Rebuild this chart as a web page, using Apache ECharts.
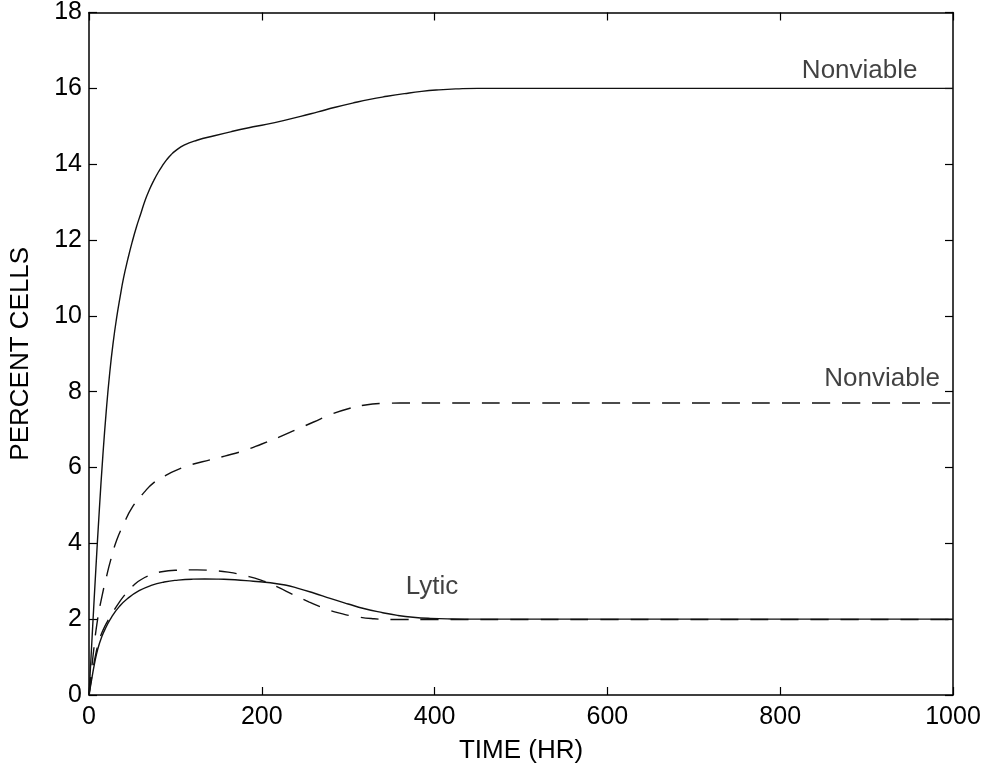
<!DOCTYPE html>
<html>
<head>
<meta charset="utf-8">
<script src="https://cdn.jsdelivr.net/npm/echarts@6/dist/echarts.min.js"></script>
<style>
html,body{margin:0;padding:0;background:#fff;}
#chart{width:990px;height:769px;}
</style>
</head>
<body>
<div id="chart"></div>
<script>
// ---- data ----
var xTicks = [0, 200, 400, 600, 800, 1000];
var yTicks = [0, 2, 4, 6, 8, 10, 12, 14, 16, 18];

var nvSolidT = [0,4,8,12,16,20,24,28,32,36,40,45,50,55,60,65,70,75,80,85,90,95,100,110,125,145,165,185,205,225,245,265,285,305,325,345,365,385,405,425,450,500,600,800,1000];
var nvSolidV = [0,1.7,3.35,4.9,6.3,7.5,8.5,9.3,9.95,10.5,11.0,11.5,11.95,12.35,12.7,13.05,13.33,13.57,13.78,13.96,14.12,14.25,14.35,14.5,14.63,14.75,14.86,14.96,15.05,15.15,15.26,15.38,15.5,15.61,15.71,15.79,15.86,15.92,15.96,15.985,16.0,16.0,16.0,16.0,16.0];

var nvDashT = [0,5,10,15,20,25,32,40,50,64,75,88,100,119,140,157,180,200,220,240,260,280,300,320,340,360,400,500,600,800,1000];
var nvDashV = [0,1.1,2.0,2.6,3.1,3.55,4.08,4.5,4.95,5.35,5.6,5.78,5.92,6.08,6.2,6.3,6.45,6.62,6.8,7.0,7.2,7.4,7.55,7.65,7.69,7.7,7.7,7.7,7.7,7.7,7.7];

var lyticSolidT = [0,3,6,10,15,20,26,35,45,58,72,87,103,120,134,150,169,190,210,227,241,260,280,300,318,340,357,375,395,420,450,500,600,800,1000];
var lyticSolidV = [0,0.4,0.78,1.2,1.55,1.8,2.05,2.33,2.55,2.75,2.89,2.98,3.03,3.055,3.06,3.055,3.04,3.0,2.96,2.9,2.82,2.69,2.54,2.4,2.28,2.17,2.1,2.05,2.02,2.005,2.0,2.0,2.0,2.0,2.0];

var lyticDashT = [0,4,8,12,16,22,28,34,40,46,52,60,72,84,100,125,145,161,180,199,218,237,255,272,290,311,330,349,400,500,600,800,1000];
var lyticDashV = [0,0.6,1.1,1.45,1.7,1.97,2.2,2.41,2.6,2.76,2.9,3.04,3.17,3.25,3.29,3.3,3.28,3.24,3.15,3.03,2.85,2.64,2.45,2.29,2.16,2.06,2.01,1.99,1.99,1.99,1.99,1.99,1.99];

var noteTexts = ['Nonviable', 'Nonviable', 'Lytic'];
var noteX = [892, 918, 397];
var noteY = [16.45, 8.34, 2.84];

// ---- build ----
function pairs(t, v) { return t.map(function (x, i) { return [x, v[i]]; }); }

var FONT = 'Liberation Sans, Arial, Helvetica, sans-serif';
var axisLineStyle = { color: '#000', width: 1.5 };
var tickStyle = { color: '#000', width: 1.2 };

function lineSeries(t, v, dashed) {
  return {
    type: 'line',
    data: pairs(t, v),
    showSymbol: false,
    smooth: 0.5,
    silent: true,
    lineStyle: { color: '#111', width: 1.4, type: dashed ? [18, 12] : 'solid' },
    z: 3
  };
}

function plainLabel(v) { return String(v); }

var chart = echarts.init(document.getElementById('chart'), null, { renderer: 'canvas' });
chart.setOption({
  backgroundColor: '#fff',
  animation: false,
  grid: { left: 88, right: 37, top: 11, bottom: 74, containLabel: false },
  xAxis: [{
    type: 'value', min: xTicks[0], max: xTicks[xTicks.length - 1], interval: 200,
    position: 'bottom',
    name: 'TIME (HR)', nameLocation: 'middle', nameGap: 43,
    nameTextStyle: { fontFamily: FONT, fontSize: 26, color: '#000' },
    axisLine: { show: true, onZero: false, lineStyle: axisLineStyle },
    axisTick: { show: true, inside: true, length: 8, lineStyle: tickStyle },
    axisLabel: { fontFamily: FONT, fontSize: 25, color: '#000', margin: 10, formatter: plainLabel },
    splitLine: { show: false }
  }, {
    type: 'value', min: xTicks[0], max: xTicks[xTicks.length - 1], interval: 200,
    position: 'top',
    axisLine: { show: true, onZero: false, lineStyle: axisLineStyle },
    axisTick: { show: true, inside: true, length: 8, lineStyle: tickStyle },
    axisLabel: { show: false },
    splitLine: { show: false }
  }],
  yAxis: [{
    type: 'value', min: yTicks[0], max: yTicks[yTicks.length - 1], interval: 2,
    position: 'left',
    name: 'PERCENT CELLS', nameLocation: 'middle', nameGap: 55, nameRotate: 90,
    nameTextStyle: { fontFamily: FONT, fontSize: 26, color: '#000' },
    axisLine: { show: true, onZero: false, lineStyle: axisLineStyle },
    axisTick: { show: true, inside: true, length: 8, lineStyle: tickStyle },
    axisLabel: { fontFamily: FONT, fontSize: 25, color: '#000', margin: 7, formatter: plainLabel },
    splitLine: { show: false }
  }, {
    type: 'value', min: yTicks[0], max: yTicks[yTicks.length - 1], interval: 2,
    position: 'right',
    axisLine: { show: true, onZero: false, lineStyle: axisLineStyle },
    axisTick: { show: true, inside: true, length: 8, lineStyle: tickStyle },
    axisLabel: { show: false },
    splitLine: { show: false }
  }],
  series: [
    lineSeries(nvSolidT, nvSolidV, false),
    lineSeries(nvDashT, nvDashV, true),
    lineSeries(lyticSolidT, lyticSolidV, false),
    lineSeries(lyticDashT, lyticDashV, true),
    {
      type: 'scatter',
      symbolSize: 0,
      silent: true,
      data: noteTexts.map(function (s, i) { return { name: s, value: [noteX[i], noteY[i]] }; }),
      label: {
        show: true, position: 'inside', formatter: '{b}',
        fontFamily: FONT, fontSize: 26, color: '#111'
      },
      z: 5
    }
  ]
});
</script>
</body>
</html>
